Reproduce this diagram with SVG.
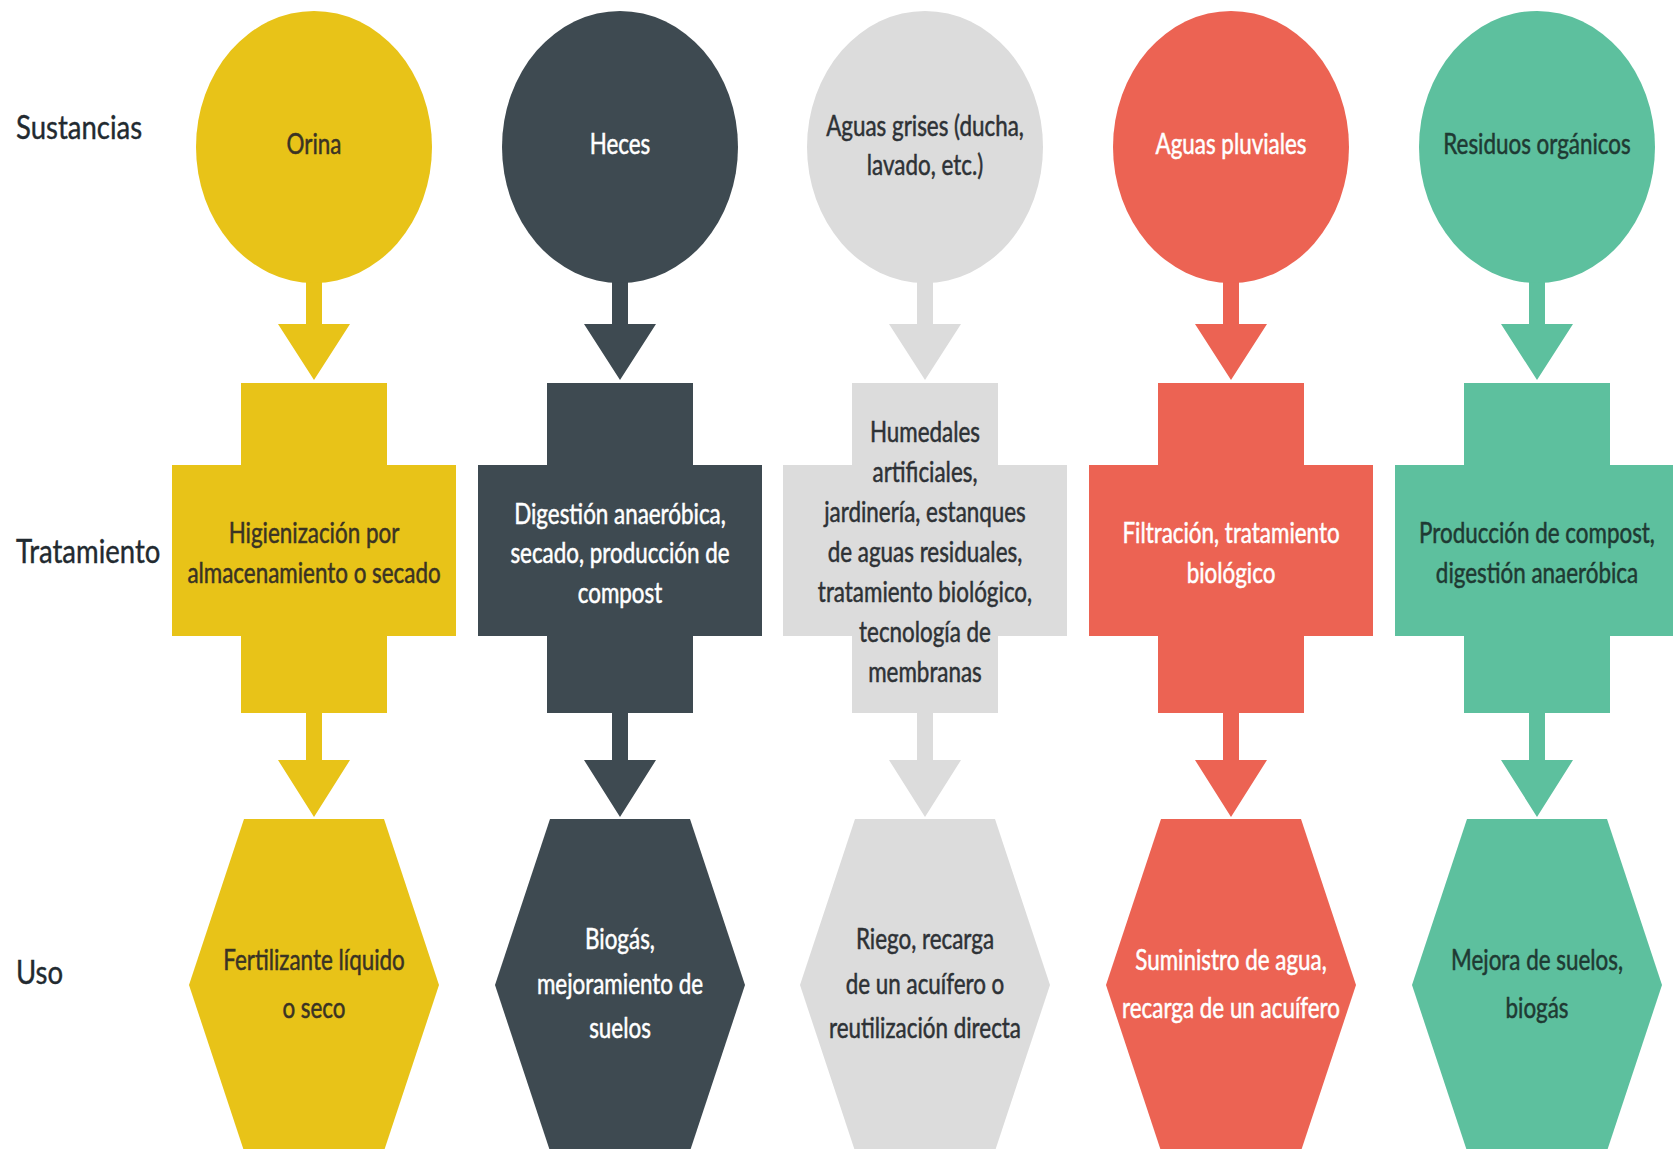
<svg xmlns="http://www.w3.org/2000/svg" width="1673" height="1149" viewBox="0 0 1673 1149">
<style>
.lbl{font-family:Lato,"Open Sans","Liberation Sans",sans-serif;font-size:32px;fill:#222a30;stroke:#222a30;stroke-width:0.4}
.t{font-family:Lato,"Open Sans","Liberation Sans",sans-serif;font-size:28px;text-anchor:middle;stroke-width:0.5}
.dk{fill:#3a3324;stroke:#3a3324}
.wh{fill:#ffffff;stroke:#ffffff}
.gr{fill:#2e3236;stroke:#2e3236}
.gn{fill:#1f3a33;stroke:#1f3a33}
.y{fill:#E8C318}
.s{fill:#3E4A51}
.l{fill:#DCDCDC}
.r{fill:#EC6353}
.g{fill:#5DC09E}
</style>
<defs>
<path id="circ" d="M-118,147 a118,136 0 1,0 236,0 a118,136 0 1,0 -236,0 z"/>
<path id="cross" d="M-73,383 H73 V465 H142 V636 H73 V713 H-73 V636 H-142 V465 H-73 Z"/>
<path id="hex" d="M-70,819 H70 L125,985 L70,1151 H-70 L-125,985 Z"/>
<path id="arr1" d="M-8,272 H8 V324 H36 L0,380 L-36,324 H-8 Z"/>
<path id="arr2" d="M-8,710 H8 V760 H36 L0,817 L-36,760 H-8 Z"/>
</defs>

<g id="row-labels">
<text class="lbl" transform="translate(16,139) scale(0.86,1)">Sustancias</text>
<text class="lbl" transform="translate(16,563) scale(0.86,1)">Tratamiento</text>
<text class="lbl" transform="translate(16,984) scale(0.86,1)">Uso</text>
</g>

<g id="connectors">
<use href="#arr1" x="314" class="y"/>
<use href="#arr2" x="314" class="y"/>
<use href="#arr1" x="620" class="s"/>
<use href="#arr2" x="620" class="s"/>
<use href="#arr1" x="925" class="l"/>
<use href="#arr2" x="925" class="l"/>
<use href="#arr1" x="1231" class="r"/>
<use href="#arr2" x="1231" class="r"/>
<use href="#arr1" x="1537" class="g"/>
<use href="#arr2" x="1537" class="g"/>
</g>

<!-- Column 1: Orina -->
<g id="orina">
<use href="#circ" x="314" class="y"/>
<text class="t dk" transform="translate(314,154) scale(0.8,1)">Orina</text>
</g>
<g id="orina-tratamiento">
<use href="#cross" x="314" class="y"/>
<text class="t dk" transform="translate(314,543) scale(0.8,1)"><tspan x="0">Higienización por</tspan><tspan x="0" dy="40">almacenamiento o secado</tspan></text>
</g>
<g id="orina-uso">
<use href="#hex" x="314" class="y"/>
<text class="t dk" transform="translate(314,970) scale(0.8,1)"><tspan x="0">Fertilizante líquido</tspan><tspan x="0" dy="48">o seco</tspan></text>
</g>

<!-- Column 2: Heces -->
<g id="heces">
<use href="#circ" x="620" class="s"/>
<text class="t wh" transform="translate(620,154) scale(0.8,1)">Heces</text>
</g>
<g id="heces-tratamiento">
<use href="#cross" x="620" class="s"/>
<text class="t wh" transform="translate(620,524) scale(0.8,1)"><tspan x="0">Digestión anaeróbica,</tspan><tspan x="0" dy="39">secado, producción de</tspan><tspan x="0" dy="40">compost</tspan></text>
</g>
<g id="heces-uso">
<use href="#hex" x="620" class="s"/>
<text class="t wh" transform="translate(620,949) scale(0.8,1)"><tspan x="0">Biogás,</tspan><tspan x="0" dy="45">mejoramiento de</tspan><tspan x="0" dy="44">suelos</tspan></text>
</g>

<!-- Column 3: Aguas grises -->
<g id="aguas-grises">
<use href="#circ" x="925" class="l"/>
<text class="t gr" transform="translate(925,136) scale(0.8,1)"><tspan x="0">Aguas grises (ducha,</tspan><tspan x="0" dy="39">lavado, etc.)</tspan></text>
</g>
<g id="grises-tratamiento">
<use href="#cross" x="925" class="l"/>
<text class="t gr" transform="translate(925,442) scale(0.8,1)"><tspan x="0">Humedales</tspan><tspan x="0" dy="40">artificiales,</tspan><tspan x="0" dy="40">jardinería, estanques</tspan><tspan x="0" dy="40">de aguas residuales,</tspan><tspan x="0" dy="40">tratamiento biológico,</tspan><tspan x="0" dy="40">tecnología de</tspan><tspan x="0" dy="40">membranas</tspan></text>
</g>
<g id="grises-uso">
<use href="#hex" x="925" class="l"/>
<text class="t gr" transform="translate(925,949) scale(0.8,1)"><tspan x="0">Riego, recarga</tspan><tspan x="0" dy="45">de un acuífero o</tspan><tspan x="0" dy="44">reutilización directa</tspan></text>
</g>

<!-- Column 4: Aguas pluviales -->
<g id="aguas-pluviales">
<use href="#circ" x="1231" class="r"/>
<text class="t wh" transform="translate(1231,154) scale(0.8,1)">Aguas pluviales</text>
</g>
<g id="pluviales-tratamiento">
<use href="#cross" x="1231" class="r"/>
<text class="t wh" transform="translate(1231,543) scale(0.8,1)"><tspan x="0">Filtración, tratamiento</tspan><tspan x="0" dy="40">biológico</tspan></text>
</g>
<g id="pluviales-uso">
<use href="#hex" x="1231" class="r"/>
<text class="t wh" transform="translate(1231,970) scale(0.8,1)"><tspan x="0">Suministro de agua,</tspan><tspan x="0" dy="48">recarga de un acuífero</tspan></text>
</g>

<!-- Column 5: Residuos orgánicos -->
<g id="residuos">
<use href="#circ" x="1537" class="g"/>
<text class="t gn" transform="translate(1537,154) scale(0.8,1)">Residuos orgánicos</text>
</g>
<g id="residuos-tratamiento">
<use href="#cross" x="1537" class="g"/>
<text class="t gn" transform="translate(1537,543) scale(0.8,1)"><tspan x="0">Producción de compost,</tspan><tspan x="0" dy="40">digestión anaeróbica</tspan></text>
</g>
<g id="residuos-uso">
<use href="#hex" x="1537" class="g"/>
<text class="t gn" transform="translate(1537,970) scale(0.8,1)"><tspan x="0">Mejora de suelos,</tspan><tspan x="0" dy="48">biogás</tspan></text>
</g>
</svg>
